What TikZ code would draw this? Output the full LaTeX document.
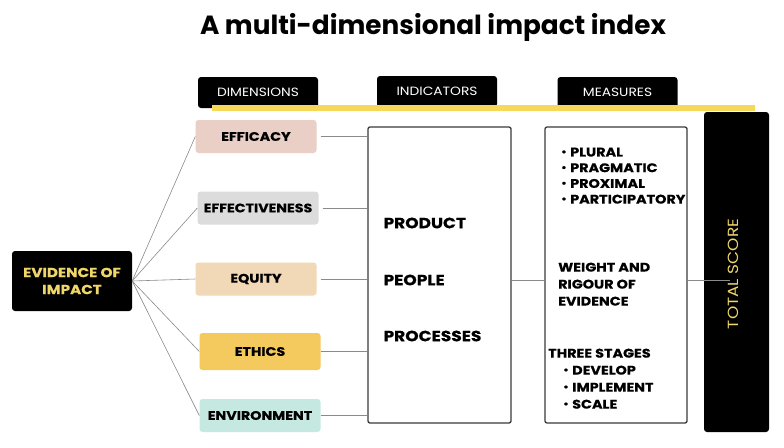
\documentclass[tikz,border=0pt]{standalone}
\usepackage{fontspec}
\setmainfont{Poppins}
\newfontfamily\widefont{Poppins}[FakeStretch=1.15]
\newfontfamily\heavyfont{Poppins}[FakeStretch=1.15, FakeBold=0.5]
\usetikzlibrary{positioning}
\definecolor{effcol}{HTML}{E9CFC5}
\definecolor{effvcol}{HTML}{DCDCDC}
\definecolor{equcol}{HTML}{F1D8B6}
\definecolor{ethcol}{HTML}{F4C95D}
\definecolor{envcol}{HTML}{C5E9E1}
\definecolor{bandcol}{HTML}{F7D95A}
\definecolor{goldtext}{HTML}{EFD66A}
\definecolor{linkcol}{HTML}{8A8A8A}
\definecolor{boxline}{HTML}{3A3A3A}
\newcommand{\dotitem}{\makebox[9pt][l]{\raisebox{1.4pt}{\fontsize{9.5}{9.5}\selectfont\textbullet}}}
\tikzset{
    headtab/.style = {rectangle, rounded corners=3pt, fill=black, text=white, minimum width=120pt, minimum height=31pt, font=\widefont\fontsize{12}{14}\selectfont},
    dimbox/.style = {rectangle, rounded corners=3pt, minimum width=121pt, minimum height=33pt, font=\heavyfont\bfseries\fontsize{12.4}{14}\selectfont},
    listbox/.style = {rectangle, rounded corners=2pt, draw=boxline, line width=1.3pt, fill=white},
    bigtext/.style = {anchor=west, font=\heavyfont\bfseries\fontsize{14.8}{17}\selectfont},
    listtext/.style = {anchor=north west, align=left, inner sep=0pt, font=\heavyfont\bfseries\fontsize{12.5}{17}\selectfont},
    link/.style = {draw=linkcol, line width=0.6pt},
}

\begin{document}
\begin{tikzpicture}[x=1pt, y=-1pt]
  \useasboundingbox[fill=white] (0,0) rectangle (784,447);

  \node (title) at (433,27) {\bfseries\fontsize{26.3}{30}\selectfont A multi-dimensional impact index};

  % headers
  \node[headtab] (dimhead) at (258,92.5) {DIMENSIONS};
  \node[headtab] (indhead) at (437,91.5) {INDICATORS};
  \node[headtab] (meashead) at (617.5,92.5) {MEASURES};
  \fill[bandcol] (212,105) rectangle (755,111);

  % root
  \node[rectangle, rounded corners=3pt, fill=black, text=goldtext, minimum width=120pt, minimum height=60pt, align=center, font=\heavyfont\bfseries\fontsize{13.2}{17}\selectfont] (evidence) at (72,281) {EVIDENCE OF\\IMPACT};

  % dimensions
  \node[dimbox, fill=effcol] (efficacy) at (256,136.5) {EFFICACY};
  \node[dimbox, fill=effvcol] (effective) at (258,208) {EFFECTIVENESS};
  \node[dimbox, fill=equcol] (equity) at (256,279) {EQUITY};
  \node[dimbox, fill=ethcol, minimum height=37pt] (ethics) at (260,351.5) {ETHICS};
  \node[dimbox, fill=envcol] (environ) at (260,415.5) {ENVIRONMENT};

  % indicators
  \node[listbox, minimum width=143pt, minimum height=296pt] (ind) at (439.5,275) {};
  \node[bigtext] (product) at (380,223) {PRODUCT};
  \node[bigtext] (people) at (380,280) {PEOPLE};
  \node[bigtext] (processes) at (380,336) {PROCESSES};

  % measures
  \node[listbox, minimum width=142pt, minimum height=296pt] (meas) at (616,275) {};
  \node[listtext, font=\heavyfont\bfseries\fontsize{12.5}{15.7}\selectfont] (lenses) at (561,147.5) {\dotitem PLURAL\\\dotitem PRAGMATIC\\\dotitem PROXIMAL\\\dotitem PARTICIPATORY};
  \node[listtext] (weight) at (558,262.5) {WEIGHT AND\\RIGOUR OF\\EVIDENCE};
  \node[listtext] (stages) at (548,348.5) {THREE STAGES};
  \node[listtext] (stagelist) at (563,365.5) {\dotitem DEVELOP\\\dotitem IMPLEMENT\\\dotitem SCALE};

  % total
  \node[rectangle, rounded corners=3pt, fill=black, minimum width=65pt, minimum height=320pt] (total) at (736.5,272) {};
  \node[rotate=90, text=goldtext, font=\widefont\fontsize{14.7}{17}\selectfont] (totaltext) at (733,274) {TOTAL SCORE};

  % connectors
  \draw[link] (evidence.east) -- (efficacy.west);
  \draw[link] (evidence.east) -- (effective.west);
  \draw[link] (evidence.east) -- (equity.west);
  \draw[link] (evidence.east) -- (ethics.west);
  \draw[link] (evidence.east) -- (environ.west);
  \draw[link, shorten <=4pt] (efficacy.east) -- (efficacy.east -| ind.west);
  \draw[link, shorten <=4pt] (effective.east) -- (effective.east -| ind.west);
  \draw[link, shorten <=4pt] (equity.east) -- (equity.east -| ind.west);
  \draw[link] (ethics.east) -- (ethics.east -| ind.west);
  \draw[link] (environ.east) -- (environ.east -| ind.west);
  \draw[link] (ind.east |- people) -- (meas.west |- people);
  \draw[link, shorten >=-26pt] (meas.east |- people) -- (total.west |- people);
\end{tikzpicture}
\end{document}
